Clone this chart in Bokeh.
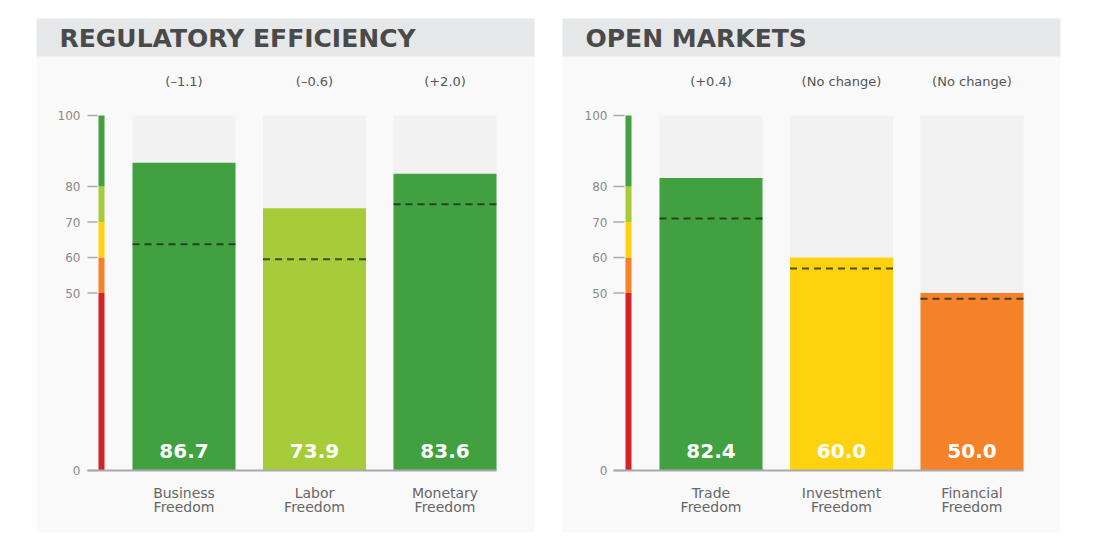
from bokeh.plotting import figure
from bokeh.layouts import row
from bokeh.models import Range1d
from bokeh.core.properties import value
from bokeh.embed import file_html
from bokeh.resources import INLINE

# ---------------- data ----------------
panel_titles = ["REGULATORY EFFICIENCY", "OPEN MARKETS"]
categories = [["Business Freedom", "Labor Freedom", "Monetary Freedom"],
              ["Trade Freedom", "Investment Freedom", "Financial Freedom"]]
scores = [[86.7, 73.9, 83.6], [82.4, 60.0, 50.0]]
world_avg = [[63.7, 59.5, 75.0], [71.0, 56.9, 48.4]]
changes = [["(\u20131.1)", "(\u20130.6)", "(+2.0)"],
           ["(+0.4)", "(No change)", "(No change)"]]
tick_values = [0, 50, 60, 70, 80, 100]
band_edges = [0, 50, 60, 70, 80, 100]
band_colors = ["#d2232a", "#f58229", "#ffd20f", "#a6cd39", "#41a03f"]

# ---------------- style / layout ----------------
FIG_W, FIG_H = 550, 538
Y0_PX, PX_PER_UNIT = 470.0, 3.55
SLOT_PX = 130.5
BAR_W = 103 / SLOT_PX
FIRST_BAR_PX = [183.5, 160.5]
PANEL_PX = [(36, 534), (12, 510)]
HEADER_PX = (18, 56)
PANEL_BOTTOM_PX = 532
STRIP_PX = [(98, 104), (75, 81)]
TICK_PX = [(87, 97), (63, 74)]
LABEL_PX = [80, 57]
TITLE_PX = [59, 35]
ZERO_END_PX = [496, 473]

PANEL_BG = "#f9f9f9"
HEADER_BG = "#e6e7e8"
COLUMN_BG = "#f2f2f2"
FONT = "DejaVu Sans"


def color_for(v):
    for lo, hi, c in zip(band_edges[:-1], band_edges[1:], band_colors):
        if lo <= v < hi:
            return c
    return band_colors[-1]


def ypx(px):
    return (Y0_PX - px) / PX_PER_UNIT


figs = []
for k in range(2):
    x_start = 1 - FIRST_BAR_PX[k] / SLOT_PX
    x_end = x_start + FIG_W / SLOT_PX

    def xpx(px, xs=x_start):
        return xs + px / SLOT_PX

    p = figure(width=FIG_W, height=FIG_H, output_backend="svg", toolbar_location=None,
               x_range=Range1d(x_start, x_end),
               y_range=Range1d(ypx(FIG_H), ypx(0)),
               min_border=0, outline_line_color=None)
    p.axis.visible = False
    p.grid.visible = False
    p.background_fill_color = "white"
    p.border_fill_color = "white"

    # panel + header
    pl, pr = PANEL_PX[k]
    p.quad(left=xpx(pl), right=xpx(pr), top=ypx(HEADER_PX[1]), bottom=ypx(PANEL_BOTTOM_PX),
           fill_color=PANEL_BG, line_color=None)
    p.quad(left=xpx(pl), right=xpx(pr), top=ypx(HEADER_PX[0]), bottom=ypx(HEADER_PX[1]),
           fill_color=HEADER_BG, line_color=None)
    p.text(x=[xpx(TITLE_PX[k])], y=[ypx(38)], text=[panel_titles[k]],
           text_font=value(FONT), text_font_style="bold", text_font_size="25px",
           text_color="#4a4a4a", text_baseline="middle", text_align="left")

    xs = [i + 1 for i in range(len(categories[k]))]
    # background columns
    p.vbar(x=xs, width=BAR_W, top=max(tick_values), bottom=0,
           fill_color=COLUMN_BG, line_color=None)
    # bars
    p.vbar(x=xs, width=BAR_W, top=scores[k], bottom=0,
           fill_color=[color_for(v) for v in scores[k]], line_color=None)
    # world averages
    p.segment(x0=[x - BAR_W / 2 for x in xs], x1=[x + BAR_W / 2 for x in xs],
              y0=world_avg[k], y1=world_avg[k], line_color="#1e2e1e", line_alpha=0.8,
              line_width=2, line_dash="7 5")
    # value labels
    p.text(x=xs, y=[ypx(450)] * 3, text=["%.1f" % v for v in scores[k]],
           text_font=value(FONT), text_font_style="bold", text_font_size="20px",
           text_color="white", text_align="center", text_baseline="middle")
    # change labels
    p.text(x=xs, y=[ypx(81)] * 3, text=changes[k],
           text_font=value(FONT), text_font_size="13px", text_color="#555555",
           text_align="center", text_baseline="middle")
    # category labels (two lines)
    lines = [c.split(" ") for c in categories[k]]
    p.text(x=xs, y=[ypx(492)] * 3, text=[l[0] for l in lines],
           text_font=value(FONT), text_font_size="14px", text_color="#666666",
           text_align="center", text_baseline="middle")
    p.text(x=xs, y=[ypx(506)] * 3, text=[l[1] for l in lines],
           text_font=value(FONT), text_font_size="14px", text_color="#666666",
           text_align="center", text_baseline="middle")

    # colour strip scale
    sl, sr = STRIP_PX[k]
    p.quad(left=xpx(sl), right=xpx(sr), bottom=band_edges[:-1], top=band_edges[1:],
           fill_color=band_colors, line_color=None)
    tl, tr = TICK_PX[k]
    p.segment(x0=xpx(tl), x1=xpx(tr), y0=tick_values, y1=tick_values,
              line_color="#aaaaaa", line_width=1.5)
    p.text(x=xpx(LABEL_PX[k]), y=tick_values, text=[str(t) for t in tick_values],
           text_font=value(FONT), text_font_size="12px", text_color="#8a8a8a",
           text_align="right", text_baseline="middle")
    # zero baseline
    p.segment(x0=[xpx(tl)], x1=[xpx(ZERO_END_PX[k])], y0=[0], y1=[0],
              line_color="#aaaaaa", line_width=2)
    figs.append(p)

layout = row(*figs, spacing=0)
open("out.html", "w").write(file_html(layout, INLINE))
